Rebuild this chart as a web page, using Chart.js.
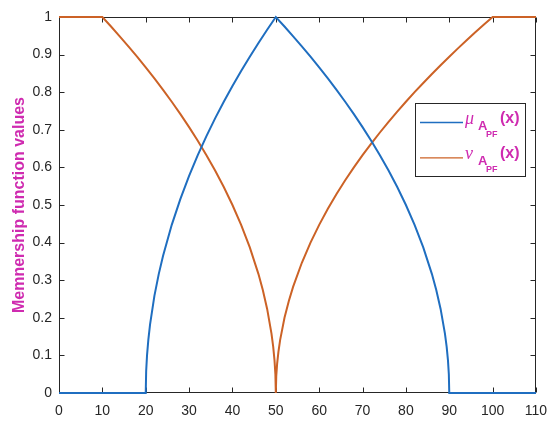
<!DOCTYPE html>
<html><head><meta charset="utf-8">
<script src="https://cdn.jsdelivr.net/npm/chart.js@4/dist/chart.umd.min.js"></script>
<style>html,body{margin:0;padding:0;background:#fff}#wrap{width:550px;height:424px;position:relative}</style>
</head><body><div id="wrap"><canvas id="c"></canvas></div>
<script>
// ---- data ----
const muX = [0, 20, 20.1, 20.3, 20.6, 21, 22, 23, 24, 26, 28, 30, 32, 34, 36, 38, 40, 42, 44, 46, 48, 50,
  52, 54, 56, 58, 60, 62, 64, 66, 68, 70, 72, 74, 76, 78, 80, 82, 84, 86, 87, 88, 89, 89.4, 89.7, 89.9, 90, 110];
const muY = [0, 0, 0.0577, 0.1, 0.1414, 0.1826, 0.2582, 0.3162, 0.3651, 0.4472, 0.5164, 0.5774, 0.6325, 0.6831, 0.7303, 0.7746, 0.8165, 0.8563, 0.8944, 0.9309, 0.9661, 1,
  0.9747, 0.9487, 0.9220, 0.8944, 0.8660, 0.8367, 0.8062, 0.7746, 0.7416, 0.7071, 0.6708, 0.6325, 0.5916, 0.5477, 0.5, 0.4472, 0.3873, 0.3162, 0.2739, 0.2236, 0.1581, 0.1225, 0.0866, 0.05, 0, 0];
const nuX = [0, 10, 12, 14, 16, 18, 20, 22, 24, 26, 28, 30, 32, 34, 36, 38, 40, 42, 44, 46, 47, 48, 49, 49.4, 49.7, 49.9, 50,
  50.1, 50.3, 50.6, 51, 52, 53, 54, 56, 58, 60, 62, 64, 66, 68, 70, 72, 74, 76, 78, 80, 82, 84, 86, 88, 90, 92, 94, 96, 98, 100, 110];
const nuY = [1, 1, 0.9747, 0.9487, 0.9220, 0.8944, 0.8660, 0.8367, 0.8062, 0.7746, 0.7416, 0.7071, 0.6708, 0.6325, 0.5916, 0.5477, 0.5, 0.4472, 0.3873, 0.3162, 0.2739, 0.2236, 0.1581, 0.1225, 0.0866, 0.05, 0,
  0.0447, 0.0775, 0.1095, 0.1414, 0.2, 0.2449, 0.2828, 0.3464, 0.4, 0.4472, 0.4899, 0.5292, 0.5657, 0.6, 0.6325, 0.6633, 0.6928, 0.7211, 0.7483, 0.7746, 0.8, 0.8246, 0.8485, 0.8718, 0.8944, 0.9165, 0.9381, 0.9592, 0.9798, 1, 1];
const xTicks = [0, 10, 20, 30, 40, 50, 60, 70, 80, 90, 100, 110];
const yTicks = [0, 0.1, 0.2, 0.3, 0.4, 0.5, 0.6, 0.7, 0.8, 0.9, 1];
const yTickLabels = ['0', '0.1', '0.2', '0.3', '0.4', '0.5', '0.6', '0.7', '0.8', '0.9', '1'];
const yAxisTitle = 'Memnership function values';
const legendItems = [
  {greek: 'μ', main: 'A', sub: 'PF', tail: '(x)'},
  {greek: 'ν', main: 'A', sub: 'PF', tail: '(x)'}
];

// ---- styles ----
const BLUE = '#1F6EC0', ORANGE = '#CC6226', AXIS = '#262626', MAGENTA = '#CF2BB0';
const SANS = "'Liberation Sans', Arial, sans-serif";
const SERIF = "'Liberation Serif', 'Times New Roman', serif";

const boxPlugin = {
  id: 'box',
  beforeDatasetsDraw(chart) {
    const {ctx, chartArea: a, scales: {x, y}} = chart;
    const L = Math.round(a.left) + 0.5, R = Math.round(a.right) - 0.5;
    const T = Math.round(a.top) + 0.5, B = Math.round(a.bottom) - 0.5;
    ctx.save();
    ctx.strokeStyle = AXIS; ctx.lineWidth = 1;
    ctx.strokeRect(L, T, R - L, B - T);
    ctx.beginPath();
    const tl = 5;
    xTicks.forEach(v => {
      const px = Math.round(x.getPixelForValue(v)) + 0.5;
      ctx.moveTo(px, B); ctx.lineTo(px, B - tl);
      ctx.moveTo(px, T); ctx.lineTo(px, T + tl);
    });
    yTicks.forEach(v => {
      const py = Math.round(y.getPixelForValue(v)) + 0.5;
      ctx.moveTo(L, py); ctx.lineTo(L + tl, py);
      ctx.moveTo(R, py); ctx.lineTo(R - tl, py);
    });
    ctx.stroke();
    ctx.restore();
  }
};

const legendPlugin = {
  id: 'texLegend',
  afterDraw(chart) {
    const {ctx} = chart;
    const bx = 415.5, by = 103.5, bw = 110, bh = 73;
    ctx.save();
    ctx.fillStyle = '#fff';
    ctx.fillRect(bx, by, bw, bh);
    ctx.strokeStyle = AXIS; ctx.lineWidth = 1;
    ctx.strokeRect(bx, by, bw, bh);
    const colors = [BLUE, ORANGE];
    legendItems.forEach((it, i) => {
      const ly = 122.5 + i * 35.3;
      ctx.strokeStyle = colors[i]; ctx.lineWidth = 1.3;
      ctx.beginPath(); ctx.moveTo(420, ly); ctx.lineTo(463, ly); ctx.stroke();
      ctx.fillStyle = MAGENTA;
      ctx.textBaseline = 'alphabetic'; ctx.textAlign = 'left';
      ctx.font = 'italic 18px ' + SERIF;
      ctx.fillText(it.greek, 465, ly + 1);
      ctx.font = 'bold 13px ' + SANS;
      ctx.fillText(it.main, 478, ly + 7.5);
      ctx.font = 'bold 9px ' + SANS;
      ctx.fillText(it.sub, 486, ly + 14);
      ctx.font = 'bold 16px ' + SANS;
      ctx.fillText(it.tail, 500, ly + 0);
    });
    ctx.restore();
  }
};

new Chart(document.getElementById('c'), {
  type: 'scatter',
  data: {
    datasets: [
      {label: 'mu', data: muX.map((v, i) => ({x: v, y: muY[i]})), borderColor: BLUE, backgroundColor: BLUE,
       showLine: true, borderWidth: 2, pointRadius: 0, pointHoverRadius: 0, tension: 0, clip: false},
      {label: 'nu', data: nuX.map((v, i) => ({x: v, y: nuY[i]})), borderColor: ORANGE, backgroundColor: ORANGE,
       showLine: true, borderWidth: 2, pointRadius: 0, pointHoverRadius: 0, tension: 0, clip: false}
    ]
  },
  options: {
    responsive: true, maintainAspectRatio: false, animation: false,
    layout: {padding: {top: 17, right: 14, left: 0, bottom: 0}},
    plugins: {legend: {display: false}, tooltip: {enabled: false}},
    scales: {
      x: {
        type: 'linear', min: 0, max: 110,
        afterBuildTicks: s => { s.ticks = xTicks.map(v => ({value: v})); },
        afterFit: s => { s.height = 31; s.paddingLeft = 0; s.paddingRight = 0; },
        grid: {display: false, drawTicks: false, tickLength: 0},
        border: {display: false},
        ticks: {color: AXIS, font: {family: SANS, size: 14}, padding: 10, maxRotation: 0, autoSkip: false,
                callback: v => String(v)}
      },
      y: {
        type: 'linear', min: 0, max: 1,
        afterBuildTicks: s => { s.ticks = yTicks.map(v => ({value: v})); },
        afterFit: s => { s.width = 59; s.paddingTop = 0; s.paddingBottom = 0; },
        grid: {display: false, drawTicks: false, tickLength: 0},
        border: {display: false},
        ticks: {color: AXIS, font: {family: SANS, size: 14}, padding: 7, autoSkip: false,
                callback: (v, i) => yTickLabels[i]},
        title: {display: true, text: yAxisTitle, color: MAGENTA, font: {family: SANS, size: 16, weight: 'bold'},
                padding: {top: 10, bottom: 0}}
      }
    }
  },
  plugins: [boxPlugin, legendPlugin]
});
</script>
</body></html>
